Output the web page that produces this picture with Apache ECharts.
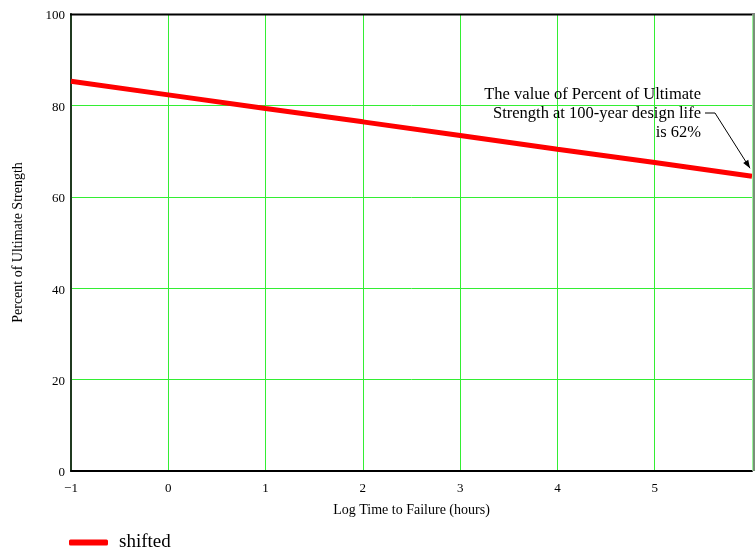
<!DOCTYPE html>
<html>
<head>
<meta charset="utf-8">
<script src="https://cdn.jsdelivr.net/npm/echarts@6/dist/echarts.min.js"></script>
<style>html,body{margin:0;padding:0;background:#fff}#c{width:755px;height:550px}</style>
</head>
<body>
<div id="c"></div>
<script>
var xValues = [-1, 0, 1, 2, 3, 4, 5, 6];
var shifted = [85.3, 82.3, 79.3, 76.4, 73.4, 70.4, 67.5, 64.5];
var seriesName = 'shifted';
var xTitle = 'Log Time to Failure (hours)';
var yTitle = 'Percent of Ultimate Strength';
var noteLines = ['The value of Percent of Ultimate', 'Strength at 100-year design life', 'is 62%'];

var font = 'Liberation Serif, Times New Roman, serif';
var chart = echarts.init(document.getElementById('c'), null, {renderer: 'canvas'});
var data = xValues.map(function (x, i) { return [x, shifted[i]]; });
chart.setOption({
  animation: false,
  grid: {left: 71, right: 1, top: 14, bottom: 79, containLabel: false, show: false},
  legend: {
    left: 64, top: 528, itemWidth: 39, itemHeight: 6, icon: 'roundRect', itemGap: 10,
    textStyle: {fontFamily: font, fontSize: 19, color: '#000', padding: [0, 0, 0, 6]},
    data: [seriesName]
  },
  xAxis: {
    type: 'value', min: -1, max: 6, interval: 1,
    name: xTitle, nameLocation: 'middle', nameGap: 32,
    nameTextStyle: {fontFamily: font, fontSize: 14, color: '#000'},
    axisLine: {show: true, onZero: false, lineStyle: {color: '#000', width: 2}},
    axisTick: {show: false},
    axisLabel: {fontFamily: font, fontSize: 13, color: '#000', margin: 11,
      formatter: function (v) { return v === 6 ? '' : (v < 0 ? '\u2212' + Math.abs(v) : String(v)); }},
    splitLine: {show: true, lineStyle: {color: '#33ee33', width: 1}}
  },
  yAxis: {
    type: 'value', min: 0, max: 100, interval: 20,
    name: yTitle, nameLocation: 'middle', nameGap: 46,
    nameTextStyle: {fontFamily: font, fontSize: 14, color: '#000'},
    axisLine: {show: true, onZero: false, lineStyle: {color: '#203a20', width: 2}},
    axisTick: {show: false},
    axisLabel: {fontFamily: font, fontSize: 13, color: '#000', margin: 6,
      formatter: function (v) { return '{a|' + v + '}'; },
      rich: {a: {fontFamily: font, fontSize: 13, color: '#000', padding: [4, 0, 0, 0]}}},
    splitLine: {show: true, lineStyle: {color: '#33ee33', width: 1}}
  },
  series: [{
    name: seriesName, type: 'line', data: data, showSymbol: false, z: 3,
    lineStyle: {color: '#ff0000', width: 5}, itemStyle: {color: '#ff0000'}
  }]
});

var tip = chart.convertToPixel({gridIndex: 0}, data[data.length - 1]);
var textRight = 701;
var graphics = noteLines.map(function (t, i) {
  return {type: 'text', right: 755 - textRight, top: 86 + i * 19, zlevel: 1,
    style: {text: t, font: '16.5px ' + font, fill: '#000', textAlign: 'right'}};
});
graphics.push({type: 'line', shape: {x1: 70, y1: 14.5, x2: 755, y2: 14.5}, style: {stroke: '#000', lineWidth: 2}, zlevel: 1});
graphics.push({type: 'rect', shape: {x: 752.5, y: 14, width: 3, height: 457}, style: {fill: '#fff'}, zlevel: 1});
graphics.push({type: 'line', shape: {x1: 754, y1: 14, x2: 754, y2: 471}, style: {stroke: '#4d6b4d', lineWidth: 1.5}, zlevel: 1});
var sx = 705, sy = 113;
var ax = tip[0] - 2, ay = tip[1] - 8;
graphics.push({type: 'polyline', shape: {points: [[sx, sy], [715, sy], [ax, ay]]},
  style: {stroke: '#000', lineWidth: 1, fill: null}, zlevel: 1});
var ang = Math.atan2(ay - sy, ax - 715);
var L = 8, W = 3;
graphics.push({type: 'polygon', shape: {points: [
  [ax, ay],
  [ax - L * Math.cos(ang) + W * Math.sin(ang), ay - L * Math.sin(ang) - W * Math.cos(ang)],
  [ax - L * Math.cos(ang) - W * Math.sin(ang), ay - L * Math.sin(ang) + W * Math.cos(ang)]
]}, style: {fill: '#000'}, zlevel: 1});
chart.setOption({graphic: graphics});
</script>
</body>
</html>
